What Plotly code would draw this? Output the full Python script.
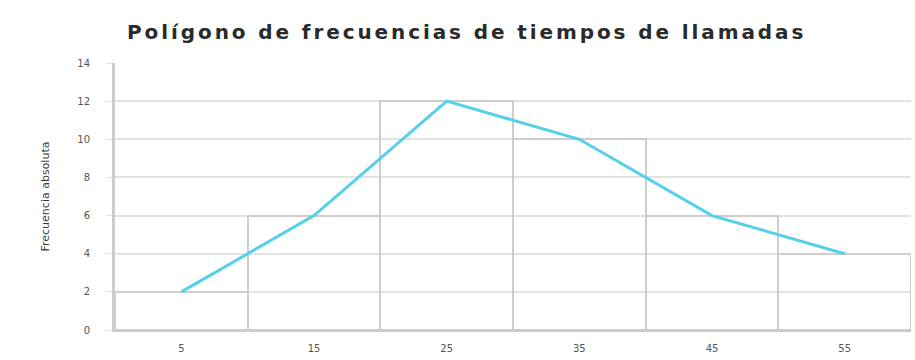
import plotly.graph_objects as go

# Data
class_marks = [5, 15, 25, 35, 45, 55]
frequencies = [2, 6, 12, 10, 6, 4]
tick_labels = ["5", "15", "25", "35", "45", "55"]
y_ticks = [0, 2, 4, 6, 8, 10, 12, 14]

title_text = "Polígono de frecuencias de tiempos de llamadas"
y_title = "Frecuencia absoluta"

fig = go.Figure()

# Histogram bars (outline only)
fig.add_trace(go.Bar(
    x=class_marks, y=frequencies, width=10,
    marker=dict(color="rgba(0,0,0,0)", line=dict(color="#cdcdcd", width=2)),
    showlegend=False, hoverinfo="skip",
))

# Frequency polygon
fig.add_trace(go.Scatter(
    x=class_marks, y=frequencies, mode="lines",
    line=dict(color="#55d0ea", width=3),
    showlegend=False,
))

fig.update_layout(
    width=915, height=360,
    margin=dict(l=115, r=4, t=63, b=30),
    paper_bgcolor="white", plot_bgcolor="white",
    font=dict(family="DejaVu Sans", color="#333333"),
    title=dict(text=title_text, x=0.51, xref="container", xanchor="center",
               y=0.91, yref="container", yanchor="middle",
               font=dict(family="DejaVu Sans", size=20, color="#2a2a2a", weight="bold")),
    bargap=0,
)

fig.update_xaxes(
    range=[0, 60], tickvals=class_marks, ticktext=tick_labels,
    showgrid=False, zeroline=False,
    showline=True, linecolor="#cccccc", linewidth=2,
    ticks="", ticklabelstandoff=8,
    tickfont=dict(size=10, color="#555555"),
)
fig.update_yaxes(
    range=[0, 14], tickvals=y_ticks, ticktext=[str(v) for v in y_ticks],
    showgrid=True, gridcolor="#e2e2e2", gridwidth=2,
    zeroline=False,
    showline=True, linecolor="#cccccc", linewidth=3,
    ticks="outside", ticklen=6, tickcolor="#e2e2e2",
    ticklabelstandoff=14,
    tickfont=dict(size=10, color="#555555"),
)

fig.add_annotation(
    text=y_title, textangle=-90, showarrow=False,
    xref="paper", yref="paper", x=-(115 - 45) / 796, y=0.5,
    xanchor="center", yanchor="middle",
    font=dict(size=11, color="#3a3a3a", family="DejaVu Sans"),
)

post = """
document.body.style.margin = '0';
var t = document.querySelector('.gtitle');
if (t) { t.style.letterSpacing = '2.9px'; }
"""

fig.write_html("out.html", post_script=post, config={"displayModeBar": False})
